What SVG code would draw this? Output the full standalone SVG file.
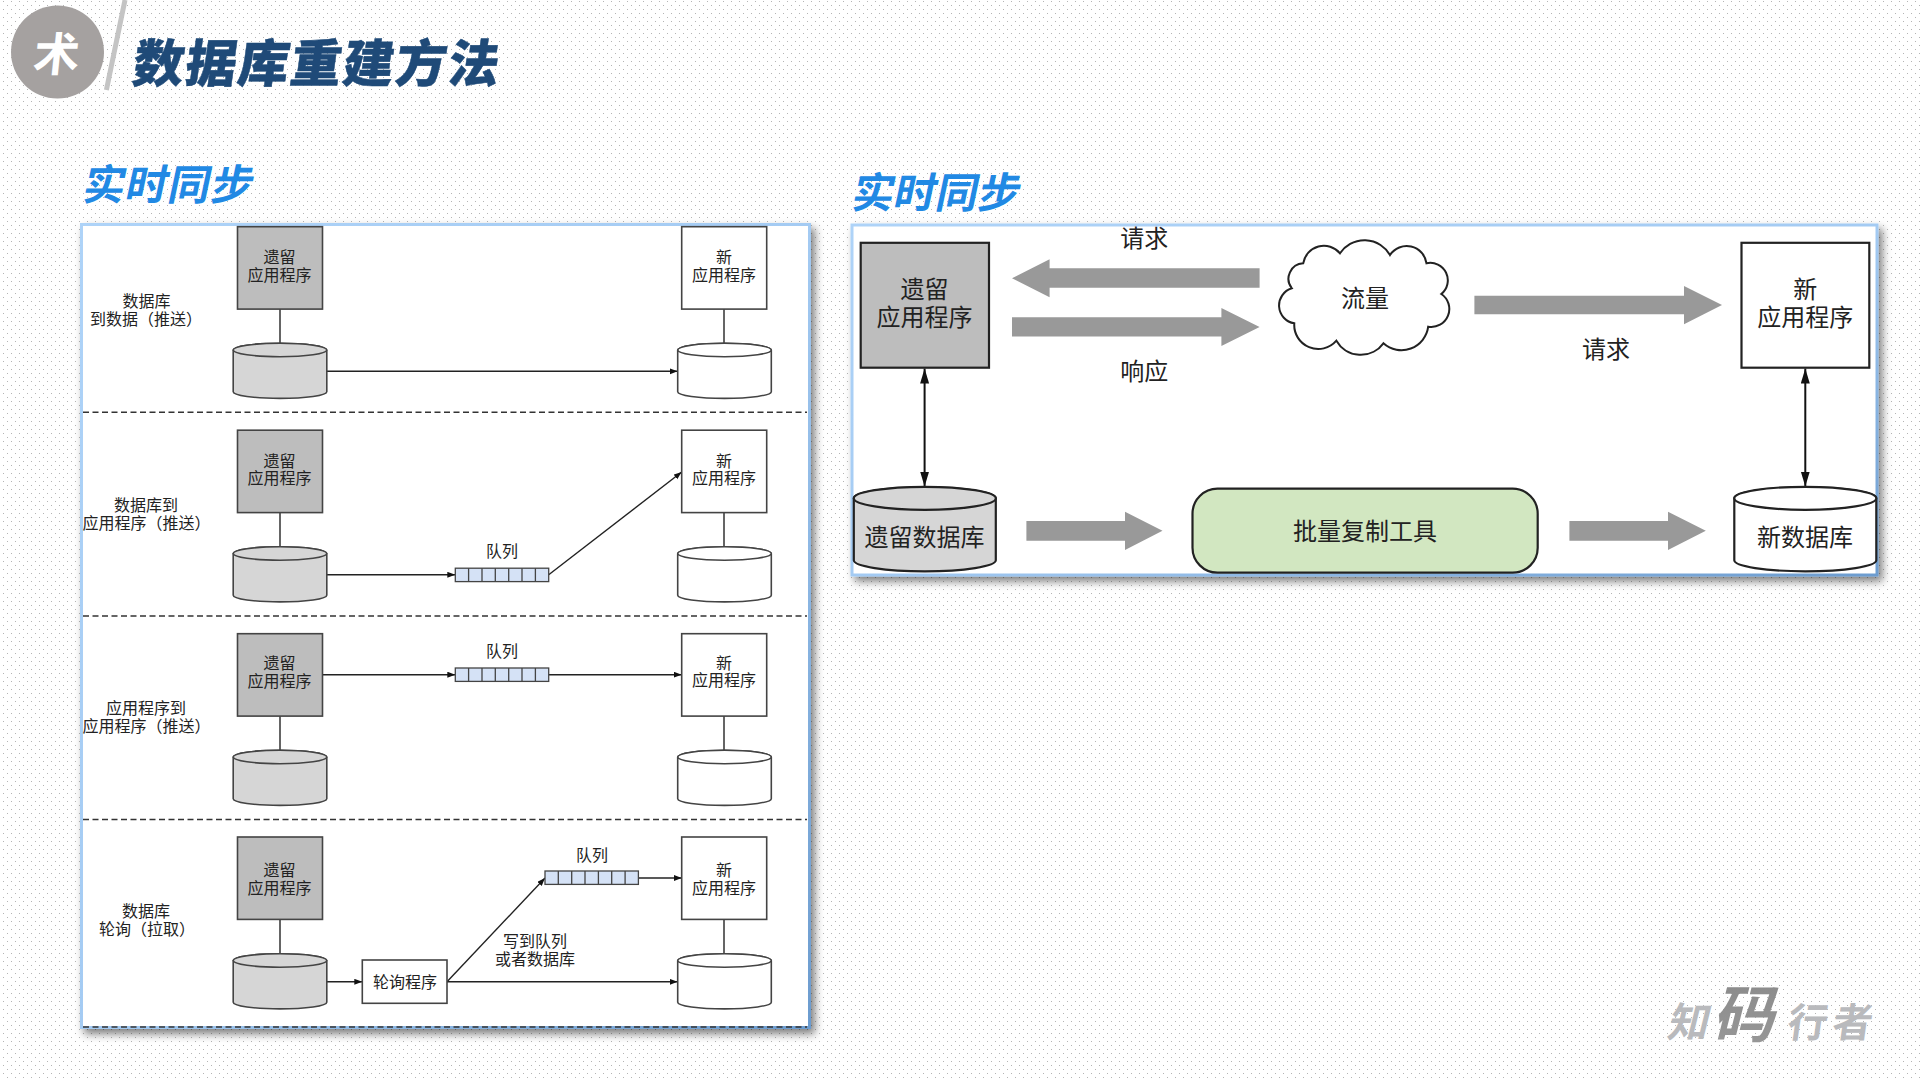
<svg xmlns="http://www.w3.org/2000/svg" width="1920" height="1079" viewBox="0 0 1920 1079">
  <style>
    text { font-family: "Noto Sans CJK SC", "Noto Sans", sans-serif; fill: #222; text-anchor: middle; }
    .s { font-size: 16px; }
    .l { font-size: 24px; }
    .head { font-size: 42px; font-weight: 700; fill: #2189e4; text-anchor: start; }
    .title { font-size: 51px; font-weight: 900; fill: #1f4a78; stroke: #1f4a78; stroke-width: 0.5; text-anchor: start; }
    .mark { font-weight: 700; fill: #b9babd; text-anchor: start; }
    .panel { fill: #fff; stroke: url(#edge); stroke-width: 3; filter: url(#lift); }
    .old { fill: #bdbdbd; stroke: #444; stroke-width: 1.6; }
    .new { fill: #fff; stroke: #444; stroke-width: 1.6; }
    .olddb { fill: #d6d6d6; stroke: #444; stroke-width: 1.6; }
    .newdb { fill: #fff; stroke: #444; stroke-width: 1.6; }
    .oldb { fill: #bdbdbd; stroke: #222; stroke-width: 2.2; }
    .newb { fill: #fff; stroke: #222; stroke-width: 2.2; }
    .olddbb { fill: #d6d6d6; stroke: #222; stroke-width: 2.2; }
    .newdbb { fill: #fff; stroke: #222; stroke-width: 2.2; }
    .stem { fill: none; stroke: #333; stroke-width: 1.5; }
    .flow { fill: none; stroke: #222; stroke-width: 1.4; marker-end: url(#tip); }
    .both { fill: none; stroke: #111; stroke-width: 2; marker-start: url(#tipL); marker-end: url(#tipL); }
    .band { fill: #999; }
    .dash { fill: none; stroke: #333; stroke-width: 1.5; stroke-dasharray: 6 3.5; }
    .cell { fill: #d5e2f6; stroke: #444; stroke-width: 1.3; }
  </style>
  <defs>
    <pattern id="dots" width="8" height="8" patternUnits="userSpaceOnUse">
      <rect x="3" y="1" width="1" height="1" fill="#b4b4b4"/>
      <rect x="7" y="5" width="1" height="1" fill="#b4b4b4"/>
    </pattern>
    <linearGradient id="edge" x1="0" y1="0" x2="1" y2="1">
      <stop offset="0" stop-color="#aed3f8"/>
      <stop offset="0.5" stop-color="#a4cbf3"/>
      <stop offset="1" stop-color="#6c9ccf"/>
    </linearGradient>
    <filter id="lift" x="-5%" y="-5%" width="110%" height="110%">
      <feDropShadow dx="4" dy="5" stdDeviation="4" flood-color="#000" flood-opacity="0.5"/>
    </filter>
    <linearGradient id="brush" x1="0" y1="0" x2="0" y2="1">
      <stop offset="0" stop-color="#888"/>
      <stop offset="1" stop-color="#999"/>
    </linearGradient>
    <marker id="tip" markerUnits="userSpaceOnUse" markerWidth="9" markerHeight="7" refX="8" refY="3" orient="auto">
      <path d="M0 0L8 3L0 6Z" fill="#111"/>
    </marker>
    <marker id="tipL" markerUnits="userSpaceOnUse" markerWidth="16" markerHeight="10" refX="15" refY="4.5" orient="auto-start-reverse">
      <path d="M0 0L15 4.5L0 9Z" fill="#111"/>
    </marker>
    <g id="cyl">
      <path d="M-46.8 0V41.7A46.8 6.7 0 0 0 46.8 41.7V0A46.8 6.7 0 0 0 -46.8 0Z"/>
      <ellipse cx="0" cy="0" rx="46.8" ry="6.7"/>
    </g>
    <g id="cylB">
      <path d="M-71 0V62A71 11 0 0 0 71 62V0A71 11 0 0 0 -71 0Z"/>
      <ellipse cx="0" cy="0" rx="71" ry="11.5"/>
    </g>
    <g id="queue">
      <rect class="cell" x="0" y="0" width="93.4" height="13.4"/>
      <path class="cell" d="M13.3 0V13.4M26.7 0V13.4M40 0V13.4M53.4 0V13.4M66.7 0V13.4M80.1 0V13.4"/>
    </g>
  </defs>

  <rect width="1920" height="1079" fill="#fff"/>
  <rect width="1920" height="1079" fill="url(#dots)"/>

  <!-- page heading -->
  <g id="heading">
    <circle cx="57.5" cy="52" r="46.5" fill="#a5a1a0"/>
    <text transform="translate(55 71) skewX(-6)" style="font-size:46px;font-weight:700;fill:#fff">术</text>
    <path d="M125 0L106.4 90" stroke="#c4c4c4" stroke-width="5" fill="none"/>
    <text class="title" transform="translate(131 82) skewX(-8)" textLength="366" lengthAdjust="spacing">数据库重建方法</text>
    <text class="head" transform="translate(81 200) skewX(-12)" textLength="170" lengthAdjust="spacing">实时同步</text>
    <text class="head" transform="translate(850 208) skewX(-12)" textLength="168" lengthAdjust="spacing">实时同步</text>
  </g>

  <rect id="panel-left" class="panel" x="81.5" y="224.5" width="728" height="803"/>
  <rect id="panel-right" class="panel" x="852" y="225" width="1025" height="350"/>

  <!-- links of the four sync modes, then the migration flow -->
  <g id="connectors">
    <path class="dash" d="M83 412.3H807M83 616H807M83 819.4H807M83 1027H807"/>

    <path class="stem" d="M280 309V343M724 309V343"/>
    <path class="flow" d="M326.8 371.3H677.6"/>

    <path class="stem" d="M280 512.5V546.5M724 512.5V546.5"/>
    <path class="flow" d="M326.8 574.8H455.3"/>
    <path class="flow" d="M548.7 574.8L681.7 472"/>

    <path class="stem" d="M280 716V750M724 716V750"/>
    <path class="flow" d="M322.4 674.7H455.3"/>
    <path class="flow" d="M548.7 674.7H681.7"/>

    <path class="stem" d="M280 919.5V953.5M724 919.5V953.5"/>
    <path class="flow" d="M326.8 981.8H362.3"/>
    <path class="flow" d="M447 981.8H677.6"/>
    <path class="flow" d="M447 981.8L545 878"/>
    <path class="flow" d="M638.6 878H681.7"/>

    <polygon class="band" points="1012,278.3 1049.6,259.3 1049.6,268.3 1259.6,268.3 1259.6,287.7 1049.6,287.7 1049.6,297.3"/>
    <polygon class="band" points="1259.6,327 1221.4,308 1221.4,317.3 1012,317.3 1012,336.5 1221.4,336.5 1221.4,346"/>
    <polygon class="band" points="1722,305 1684,286 1684,295.7 1474.4,295.7 1474.4,314.3 1684,314.3 1684,324.3"/>
    <polygon class="band" points="1162.5,530.7 1125,511.7 1125,521 1026.4,521 1026.4,540.7 1125,540.7 1125,550"/>
    <polygon class="band" points="1705.8,530.7 1668,511.7 1668,521 1569.4,521 1569.4,540.7 1668,540.7 1668,550"/>
    <path class="both" d="M924.6 368.5V486.5"/>
    <path class="both" d="M1805.3 368.5V486.5"/>
  </g>

  <!-- mode captions -->
  <g id="captions">
    <text class="s" x="146.5" y="306.5">数据库<tspan x="90" dy="18.3" style="text-anchor:start">到数据（推送）</tspan></text>
    <text class="s" x="146" y="510.8">数据库到<tspan x="82.5" dy="18.2" style="text-anchor:start">应用程序（推送）</tspan></text>
    <text class="s" x="146" y="713.6">应用程序到<tspan x="82.5" dy="18.2" style="text-anchor:start">应用程序（推送）</tspan></text>
    <text class="s" x="146" y="917">数据库<tspan x="99" dy="18" style="text-anchor:start">轮询（拉取）</tspan></text>
  </g>

  <!-- row 1: database to database -->
  <g id="legacy-app-1"><rect class="old" x="237.5" y="226.7" width="85" height="82.4"/><text class="s" x="279.5" y="263">遗留<tspan x="279.5" dy="17.8">应用程序</tspan></text></g>
  <g id="new-app-1"><rect class="new" x="681.7" y="226.7" width="85" height="82.4"/><text class="s" x="724" y="263">新<tspan x="724" dy="17.8">应用程序</tspan></text></g>
  <g id="legacy-db-1"><use href="#cyl" class="olddb" x="280" y="350"/></g>
  <g id="new-db-1"><use href="#cyl" class="newdb" x="724.5" y="350"/></g>

  <!-- row 2: database to application -->
  <g id="legacy-app-2"><rect class="old" x="237.5" y="430.2" width="85" height="82.4"/><text class="s" x="279.5" y="466.5">遗留<tspan x="279.5" dy="17.8">应用程序</tspan></text></g>
  <g id="new-app-2"><rect class="new" x="681.7" y="430.2" width="85" height="82.4"/><text class="s" x="724" y="466.5">新<tspan x="724" dy="17.8">应用程序</tspan></text></g>
  <g id="legacy-db-2"><use href="#cyl" class="olddb" x="280" y="553.5"/></g>
  <g id="new-db-2"><use href="#cyl" class="newdb" x="724.5" y="553.5"/></g>
  <g id="queue-2"><use href="#queue" x="455.3" y="568.2"/><text class="s" x="502" y="557">队列</text></g>

  <!-- row 3: application to application -->
  <g id="legacy-app-3"><rect class="old" x="237.5" y="633.7" width="85" height="82.4"/><text class="s" x="279.5" y="669">遗留<tspan x="279.5" dy="17.8">应用程序</tspan></text></g>
  <g id="new-app-3"><rect class="new" x="681.7" y="633.7" width="85" height="82.4"/><text class="s" x="724" y="668.5">新<tspan x="724" dy="17.8">应用程序</tspan></text></g>
  <g id="legacy-db-3"><use href="#cyl" class="olddb" x="280" y="757"/></g>
  <g id="new-db-3"><use href="#cyl" class="newdb" x="724.5" y="757"/></g>
  <g id="queue-3"><use href="#queue" x="455.3" y="668"/><text class="s" x="502" y="657">队列</text></g>

  <!-- row 4: polling -->
  <g id="legacy-app-4"><rect class="old" x="237.5" y="837" width="85" height="82.4"/><text class="s" x="279.5" y="875.5">遗留<tspan x="279.5" dy="18">应用程序</tspan></text></g>
  <g id="new-app-4"><rect class="new" x="681.7" y="837" width="85" height="82.4"/><text class="s" x="724" y="875.5">新<tspan x="724" dy="18">应用程序</tspan></text></g>
  <g id="legacy-db-4"><use href="#cyl" class="olddb" x="280" y="960.5"/></g>
  <g id="new-db-4"><use href="#cyl" class="newdb" x="724.5" y="960.5"/></g>
  <g id="poller"><rect class="new" x="362.3" y="960" width="84.7" height="43.3"/><text class="s" x="405" y="987.5">轮询程序</text></g>
  <g id="queue-4"><use href="#queue" x="545" y="871"/><text class="s" x="592" y="861">队列</text></g>
  <g id="queue-note"><text class="s" x="535" y="946.5">写到队列<tspan x="535" dy="18.2">或者数据库</tspan></text></g>

  <!-- migration flow -->
  <g id="legacy-app"><rect class="oldb" x="860.7" y="242.8" width="128.3" height="124.9"/><text class="l" x="924.6" y="297.6">遗留<tspan x="924.6" dy="28">应用程序</tspan></text></g>
  <g id="traffic">
    <path d="M1291.8 288.3A15.5 15.5 0 0 1 1303.2 263.3A21 21 0 0 1 1340 253.3A29.5 29.5 0 0 1 1390 255A20 20 0 0 1 1426.5 263.3A17.5 17.5 0 0 1 1441.3 294A18 18 0 0 1 1428.2 326.7A27 27 0 0 1 1383.4 343.3A28 28 0 0 1 1336.4 340.7A24 24 0 0 1 1294.3 323.3A18 18 0 0 1 1291.8 288.3Z" fill="#fff" stroke="#222" stroke-width="2"/>
    <text class="l" x="1365" y="306.6">流量</text>
  </g>
  <g id="new-app"><rect class="newb" x="1741.5" y="242.8" width="127.8" height="124.9"/><text class="l" x="1805.3" y="297.6">新<tspan x="1805.3" dy="28">应用程序</tspan></text></g>
  <g id="legacy-db"><use href="#cylB" class="olddbb" x="924.8" y="498.3"/><text class="l" x="924.6" y="545.9">遗留数据库</text></g>
  <g id="new-db"><use href="#cylB" class="newdbb" x="1805.3" y="498.3"/><text class="l" x="1805" y="545.9">新数据库</text></g>
  <g id="copy-tool"><rect x="1192.5" y="488.7" width="345.2" height="84" rx="25" fill="#d2e7c1" stroke="#222" stroke-width="2.2"/><text class="l" x="1365" y="540.3">批量复制工具</text></g>
  <g id="flow-labels">
    <text class="l" x="1144.3" y="246.6">请求</text>
    <text class="l" x="1144.3" y="380.4">响应</text>
    <text class="l" x="1606" y="358">请求</text>
  </g>

  <!-- signature -->
  <g id="signature">
    <text class="mark" transform="translate(1666 1037) skewX(-14)" style="font-size:41px">知</text>
    <text class="mark" transform="translate(1712 1037) skewX(-14)" style="font-size:62px;fill:url(#brush)">码</text>
    <text class="mark" transform="translate(1786 1037) skewX(-8)" style="font-size:40px">行</text>
    <text class="mark" transform="translate(1831 1037) skewX(-8)" style="font-size:40px">者</text>
  </g>
</svg>
